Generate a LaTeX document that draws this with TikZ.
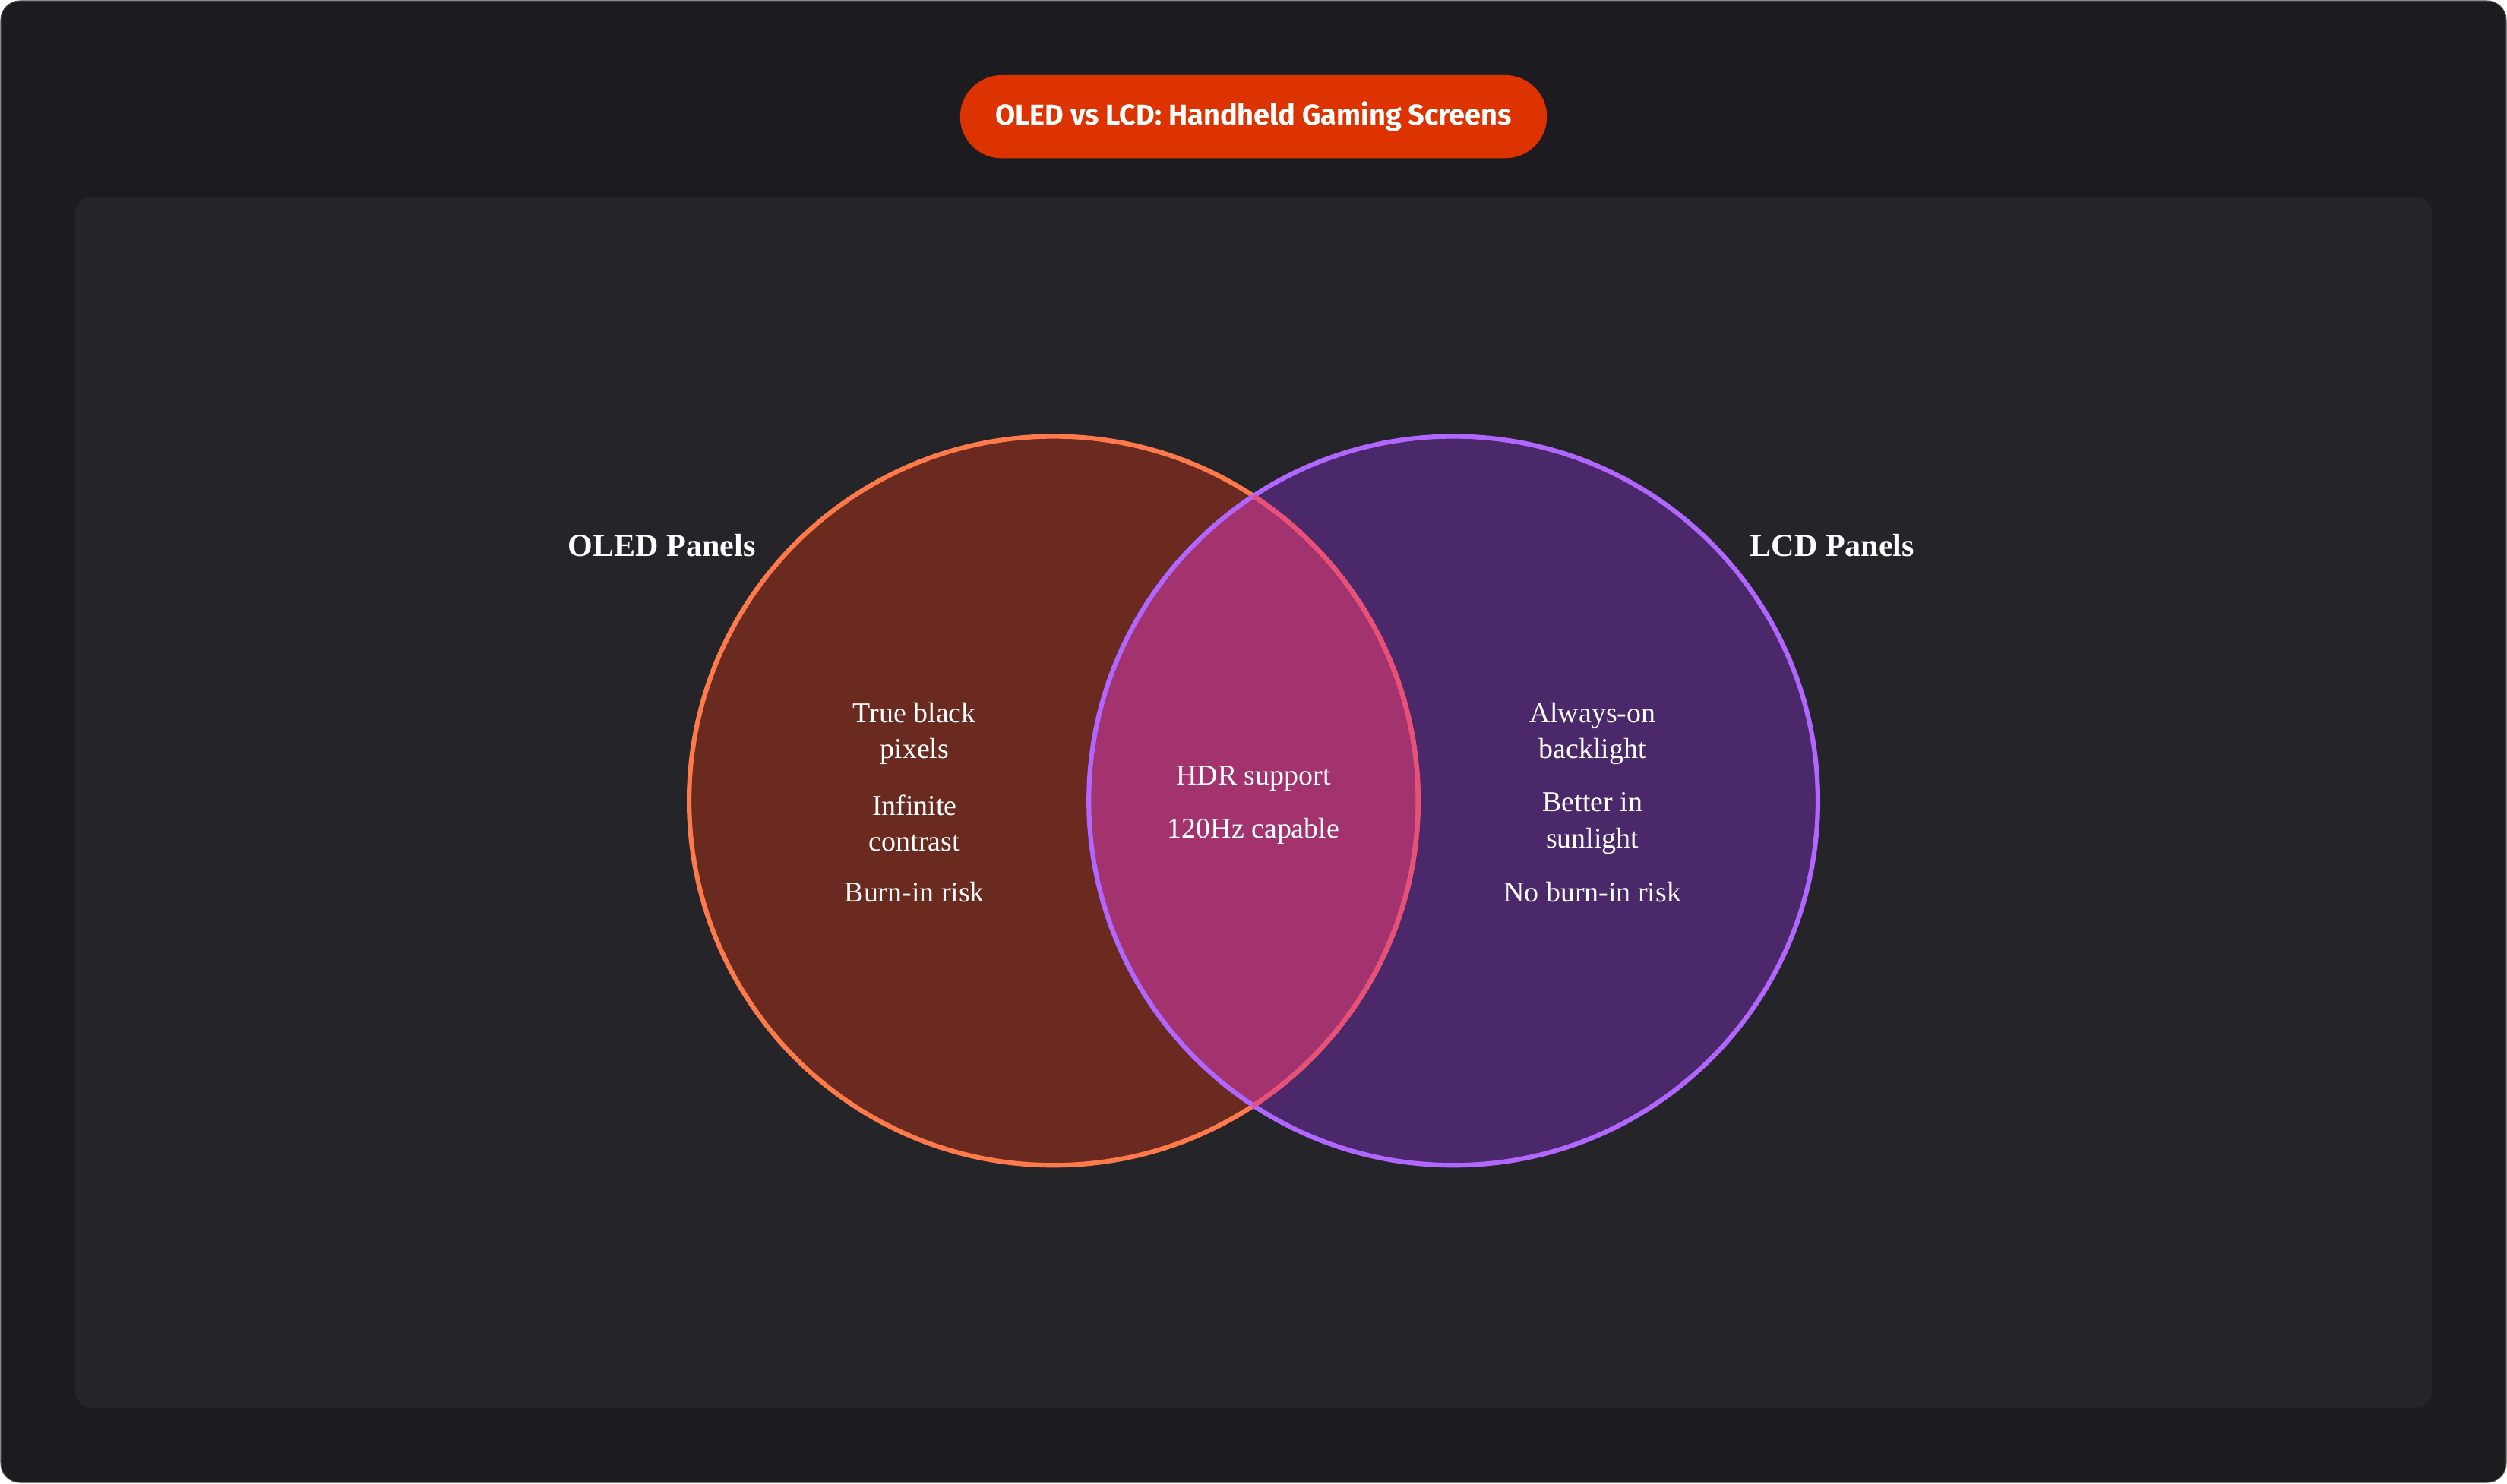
\documentclass[tikz,border=0pt]{standalone}
\usepackage{fontspec}
\setmainfont{Liberation Serif}
\newfontfamily\titlefont{Fira Sans}
\begin{document}
\begin{tikzpicture}[x=0.75pt,y=-0.75pt,
  body/.style={text=white,font=\fontsize{13.5}{17}\selectfont,align=center},
  head/.style={text=white,font=\fontsize{15}{18}\selectfont\bfseries}]
\definecolor{bg}{HTML}{1C1C20}
\definecolor{panel}{HTML}{252529}
\definecolor{pill}{HTML}{DD3300}
\definecolor{lfill}{HTML}{6A2A20}
\definecolor{rfill}{HTML}{4A286A}
\definecolor{mfill}{HTML}{A3336F}
\definecolor{lstroke}{HTML}{FF7A4A}
\definecolor{rstroke}{HTML}{B066FF}
\definecolor{mstroke}{HTML}{E8507A}
\useasboundingbox (0,0) rectangle (1568,928);
\draw[fill=bg,draw=gray!60!black,rounded corners=9] (0.5,0.5) rectangle (1567.5,927.5);
\fill[panel,rounded corners=8] (47,123) rectangle (1521,881);
\node[fill=pill,rounded corners=19.5,minimum width=367*0.75pt,minimum height=52*0.75pt,text=white,font=\titlefont\fontsize{13.5}{16}\selectfont\bfseries] (title) at (784,73) {OLED vs LCD: Handheld Gaming Screens};
\coordinate (lc) at (659,501);
\coordinate (rc) at (909,501);
\fill[lfill] (lc) circle (228);
\fill[rfill] (rc) circle (228);
\begin{scope}
\clip (lc) circle (228);
\fill[mfill] (rc) circle (228);
\end{scope}
\draw[lstroke,line width=2.2pt] (lc) circle (228);
\draw[rstroke,line width=2.2pt] (rc) circle (228);
\begin{scope}
\clip (rc) circle (228);
\draw[mstroke,line width=2.2pt] (lc) circle (228);
\end{scope}
\node[head] (oled) at (414,341) {OLED Panels};
\node[head] (lcd) at (1146,341) {LCD Panels};
\node[body] (l1) at (572,459) {True black\\pixels};
\node[body] (l2) at (572,515) {Infinite\\contrast};
\node[body] (l3) at (572,558) {Burn-in risk};
\node[body] (m1) at (784,487) {HDR support};
\node[body] (m2) at (784,520) {120Hz capable};
\node[body] (r1) at (996,459) {Always-on\\backlight};
\node[body] (r2) at (996,515) {Better in\\sunlight};
\node[body] (r3) at (996,558) {No burn-in risk};
\end{tikzpicture}
\end{document}
